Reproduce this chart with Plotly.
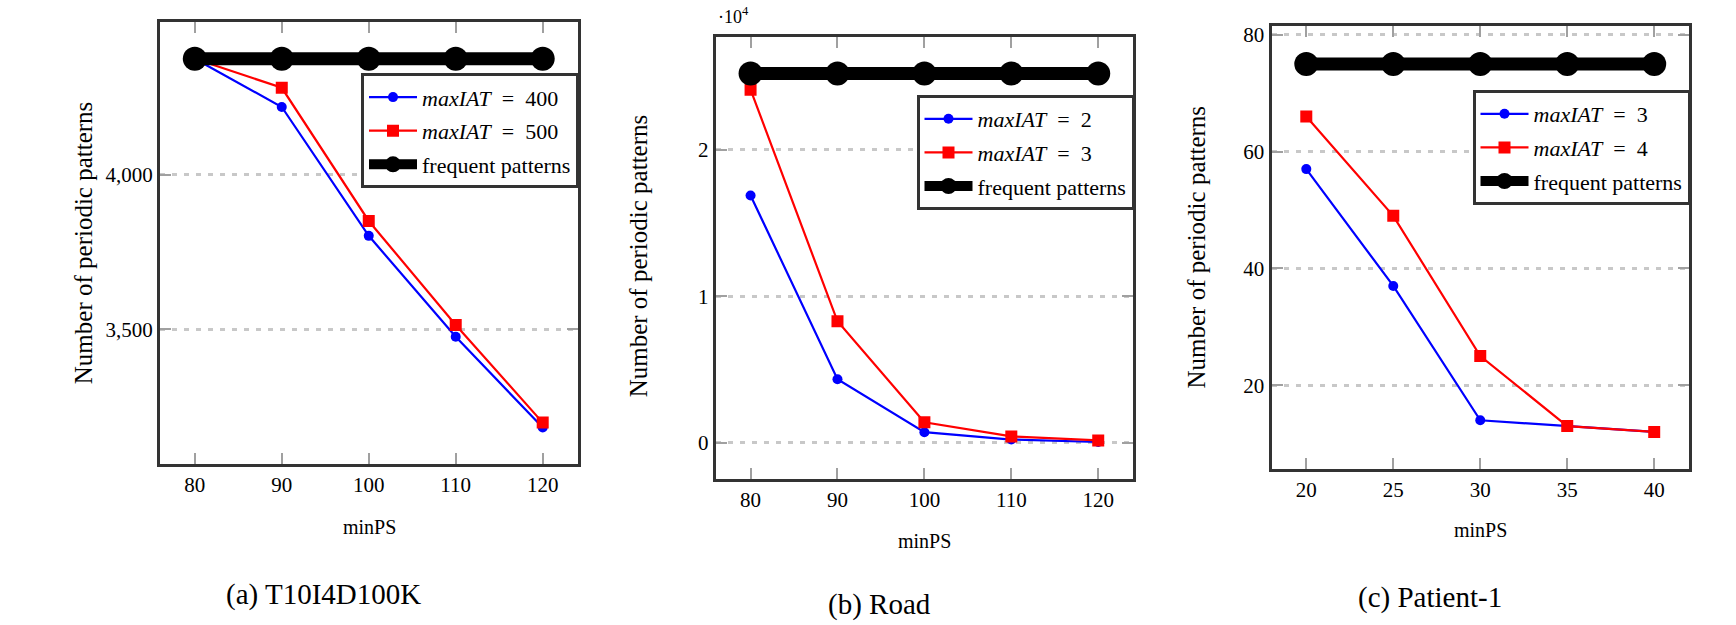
import plotly.graph_objects as go

W, H = 1736, 625

# ---------------- data ----------------
minps_a = [80, 90, 100, 110, 120]
a_iat400 = [4374, 4218, 3802, 3476, 3183]
a_iat500 = [4374, 4280, 3850, 3514, 3199]
a_freq = [4374, 4374, 4374, 4374, 4374]

minps_b = [80, 90, 100, 110, 120]
b_iat2 = [16880, 4340, 720, 220, 50]
b_iat3 = [24100, 8290, 1400, 430, 160]
b_freq = [25200, 25200, 25200, 25200, 25200]

minps_c = [20, 25, 30, 35, 40]
c_iat3 = [57, 37, 14, 13, 12]
c_iat4 = [66, 49, 25, 13, 12]
c_freq = [75, 75, 75, 75, 75]

ticks_a_y = [3500, 4000]
ticks_a_ytext = ["3,500", "4,000"]
ticks_b_y = [0, 10000, 20000]
ticks_b_ytext = ["0", "1", "2"]
ticks_c_y = [20, 40, 60, 80]

captions = ["(a) T10I4D100K", "(b) Road", "(c) Patient-1"]
legend_a = ["<i>maxIAT</i> \u00a0=\u00a0 400", "<i>maxIAT</i> \u00a0=\u00a0 500", "frequent patterns"]
legend_b = ["<i>maxIAT</i> \u00a0=\u00a0 2", "<i>maxIAT</i> \u00a0=\u00a0 3", "frequent patterns"]
legend_c = ["<i>maxIAT</i> \u00a0=\u00a0 3", "<i>maxIAT</i> \u00a0=\u00a0 4", "frequent patterns"]

FONT = "Liberation Serif"
BLUE = "#0000ff"
RED = "#ff0000"

def px(x):
    return x / W

def py(y):
    return 1 - y / H

# panel frames (pixels, frame-line centres): left, right, top, bottom
frames = [
    (158.5, 579.0, 20.0, 465.0),
    (714.3, 1134.5, 35.0, 480.0),
    (1270.0, 1690.5, 24.5, 470.0),
]
LW = 3  # frame line width; plotly draws the line just outside the domain

fig = go.Figure()

panels = [
    (minps_a, a_iat400, a_iat500, a_freq, legend_a, "legend"),
    (minps_b, b_iat2, b_iat3, b_freq, legend_b, "legend2"),
    (minps_c, c_iat3, c_iat4, c_freq, legend_c, "legend3"),
]

for i, (xs, s1, s2, sf, names, lg) in enumerate(panels):
    xa = "x" if i == 0 else f"x{i+1}"
    ya = "y" if i == 0 else f"y{i+1}"
    fig.add_trace(go.Scatter(x=xs, y=s1, name=names[0], mode="lines+markers",
                             line=dict(color=BLUE, width=2.2),
                             marker=dict(color=BLUE, size=10, symbol="circle"),
                             xaxis=xa, yaxis=ya, legend=lg, legendgroup=f"{lg}a"))
    fig.add_trace(go.Scatter(x=xs, y=s2, name=names[1], mode="lines+markers",
                             line=dict(color=RED, width=2.2),
                             marker=dict(color=RED, size=12, symbol="square"),
                             xaxis=xa, yaxis=ya, legend=lg, legendgroup=f"{lg}b"))
    fig.add_trace(go.Scatter(x=xs, y=sf, name=names[2], mode="lines+markers",
                             line=dict(color="black", width=13),
                             marker=dict(color="black", size=24, symbol="circle"),
                             xaxis=xa, yaxis=ya, legend=lg, legendgroup=f"{lg}c"))

axis_common = dict(
    showline=True, linecolor="#333333", linewidth=LW, mirror="allticks",
    ticks="inside", tickcolor="#a0a0a0", tickwidth=2, ticklen=11,
    tickfont=dict(family=FONT, size=21, color="black"),
    zeroline=False,
)

x_ranges = [[76, 124], [76, 124], [18, 42]]
y_ranges = [[3067, 4494], [-2440, 27730], [5.74, 81.5]]
x_ticks = [minps_a, minps_b, minps_c]
y_ticks = [(ticks_a_y, ticks_a_ytext), (ticks_b_y, ticks_b_ytext),
           (ticks_c_y, [str(v) for v in ticks_c_y])]

layout = {}
h = LW / 2
for i, (l, r, t, b) in enumerate(frames):
    xk = "xaxis" if i == 0 else f"xaxis{i+1}"
    yk = "yaxis" if i == 0 else f"yaxis{i+1}"
    yname = "y" if i == 0 else f"y{i+1}"
    xname = "x" if i == 0 else f"x{i+1}"
    layout[xk] = dict(axis_common, domain=[px(l + h), px(r - h)], range=x_ranges[i],
                      tickvals=x_ticks[i], showgrid=False, anchor=yname)
    layout[yk] = dict(axis_common, domain=[py(b - h), py(t + h)], range=y_ranges[i],
                      tickvals=y_ticks[i][0], ticktext=y_ticks[i][1],
                      showgrid=True, gridcolor="#c8c8c8", gridwidth=2.5,
                      griddash="5px,7px", anchor=xname)

legend_boxes = [(579.0, 73.3), (1134.5, 95.0), (1690.5, 90.0)]
for i, (rx, ty) in enumerate(legend_boxes):
    lk = "legend" if i == 0 else f"legend{i+1}"
    layout[lk] = dict(x=px(rx), xanchor="right", y=py(ty), yanchor="top",
                      bgcolor="white", bordercolor="#333333", borderwidth=3,
                      font=dict(family=FONT, size=22, color="black"),
                      itemwidth=48, itemsizing="trace", tracegroupgap=2,
                      traceorder="grouped")

fig.update_layout(
    width=W, height=H, margin=dict(l=0, r=0, t=0, b=0, autoexpand=False),
    paper_bgcolor="white", plot_bgcolor="white",
    showlegend=True,
    **layout,
)

ann = []
ytitle_pos = [(83.7, 242.5), (638.5, 255.8), (1196.0, 247.5)]
for (x, y) in ytitle_pos:
    ann.append(dict(text="Number of periodic patterns", x=px(x), y=py(y),
                    xref="paper", yref="paper", showarrow=False, textangle=-90,
                    font=dict(family=FONT, size=25, color="black"),
                    xanchor="center", yanchor="middle"))
xtitle_pos = [(369.0, 527.0), (924.5, 541.0), (1480.0, 530.0)]
for (x, y) in xtitle_pos:
    ann.append(dict(text="minPS", x=px(x), y=py(y), xref="paper", yref="paper",
                    showarrow=False, font=dict(family=FONT, size=20, color="black"),
                    xanchor="center", yanchor="middle"))
cap_pos = [(323.0, 594.0), (879.0, 604.0), (1430.0, 597.0)]
for txt, (x, y) in zip(captions, cap_pos):
    ann.append(dict(text=txt, x=px(x), y=py(y), xref="paper", yref="paper",
                    showarrow=False, font=dict(family=FONT, size=29, color="black"),
                    xanchor="center", yanchor="middle"))
ann.append(dict(text="\u00b710<sup>4</sup>", x=px(733), y=py(15), xref="paper", yref="paper",
                showarrow=False, font=dict(family=FONT, size=18, color="black"),
                xanchor="center", yanchor="middle"))
fig.update_layout(annotations=ann)

fig.write_html(
    "out.html",
    config={"displayModeBar": False},
    post_script="document.body.style.margin='0';document.body.style.overflow='hidden';",
)
